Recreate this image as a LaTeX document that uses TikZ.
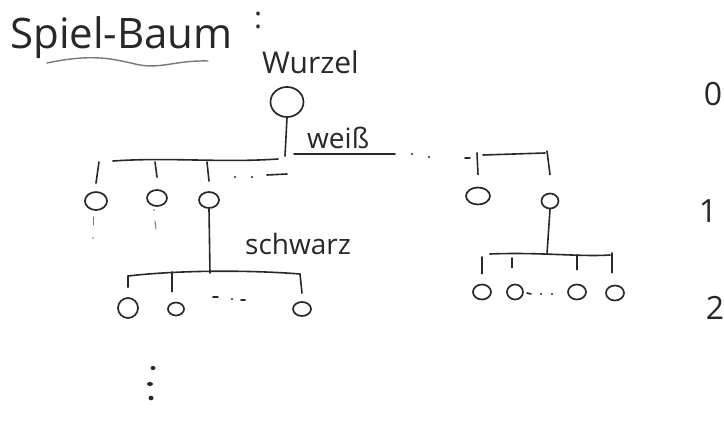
\documentclass[tikz,border=0pt]{standalone}
\usepackage{fontspec}
\setmainfont{Open Sans}
\usetikzlibrary{shapes.geometric,decorations.pathmorphing}
\definecolor{ink}{RGB}{40,40,40}
\definecolor{pale}{RGB}{120,120,120}
\begin{document}
\begin{tikzpicture}[x=1pt,y=-1pt,
  pen/.style={draw=ink,line width=1.6pt,line cap=round},
  knot/.style={draw=ink,line width=1.7pt,ellipse,inner sep=0pt},
  txt/.style={text=ink,inner sep=0pt,anchor=base west}]
\useasboundingbox (0,0) rectangle (724,425);
\fill[white] (0,0) rectangle (724,425);
% title
\node[txt,font=\fontsize{42}{42}\selectfont] (title) at (10,49) {Spiel-Baum};
\node[txt,font=\fontsize{30}{30}\selectfont] (colon) at (254,29) {:};
\draw[pale,line width=1.4pt,line cap=round] (47,63) .. controls (90,54) and (110,58) .. (135,64) .. controls (160,70) and (175,60) .. (208,61);
% labels
\node[txt,font=\fontsize{30}{30}\selectfont] (wurzel) at (262,74) {Wurzel};
\node[txt,font=\fontsize{28}{28}\selectfont] (weiss) at (307,149) {weiß};
\node[txt,font=\fontsize{28}{28}\selectfont] (schwarz) at (245,255) {schwarz};
% level numbers
\node[text=ink,inner sep=0pt,font=\fontsize{32}{32}\selectfont] (n0) at (713,94) {0};
\node[text=ink,inner sep=0pt,font=\fontsize{32}{32}\selectfont] (n1) at (708,211) {1};
\node[text=ink,inner sep=0pt,font=\fontsize{32}{32}\selectfont] (n2) at (715,308) {2};
% root
\node[knot,minimum width=33pt,minimum height=30pt] (root) at (287,102) {};
% level 1
\node[knot,minimum width=22pt,minimum height=18pt] (a1) at (96,201) {};
\node[knot,minimum width=20pt,minimum height=16pt] (a2) at (157,198) {};
\node[knot,minimum width=20pt,minimum height=16pt] (a3) at (209,200) {};
\node[knot,minimum width=24pt,minimum height=17pt] (a4) at (478,196) {};
\node[knot,minimum width=17pt,minimum height=15pt] (a5) at (550,201) {};
% level 2 left
\node[knot,minimum width=20pt,minimum height=20pt] (b1) at (128,308) {};
\node[knot,minimum width=16pt,minimum height=13pt] (b2) at (176,309) {};
\node[knot,minimum width=18pt,minimum height=14pt] (b3) at (302,309) {};
% level 2 right
\node[knot,minimum width=18pt,minimum height=15pt] (c1) at (482,292) {};
\node[knot,minimum width=16pt,minimum height=15pt] (c2) at (515,292) {};
\node[knot,minimum width=18pt,minimum height=15pt] (c3) at (577,292) {};
\node[knot,minimum width=18pt,minimum height=15pt] (c4) at (615,293) {};
% coordinates
\coordinate (rootbar) at (285,156);
\coordinate (barL) at (113,161);
\coordinate (barR) at (278,159);
\coordinate (ulL) at (294,154);
\coordinate (ulR) at (395,154);
\coordinate (t1) at (99,162);
\coordinate (t2) at (155,162);
\coordinate (t3) at (207,162);
\coordinate (rbarL) at (483,155);
\coordinate (rbarR) at (545,153);
\coordinate (t4) at (477,153);
\coordinate (t5) at (547,151);
\coordinate (s3) at (210,273);
\coordinate (lbarL) at (128,276);
\coordinate (lbarR) at (300,274);
\coordinate (s5) at (547,254);
\coordinate (rbL) at (490,254);
\coordinate (rbR) at (610,255);
% root connectors
\draw[pen] (root.south) -- (rootbar);
\draw[pen] (barL) .. controls (170,157) and (220,163) .. (barR);
\draw[pen] (ulL) -- (ulR);
\draw[pen] (t1) -- ([yshift=8pt]a1.north);
\draw[pen] (t2) -- ([yshift=12pt]a2.north);
\draw[pen] (t3) -- ([yshift=10pt]a3.north);
\fill[ink] (235,177) circle (1.2pt) (252,177) circle (1.2pt);
\draw[pen] (267,175) -- (287,174);
\fill[ink] (412,154) circle (1.2pt) (429,157) circle (1.2pt);
\draw[pen] (465,158) -- (470,158);
\draw[pen] (rbarL) -- (rbarR);
\draw[pen] (t4) -- ([yshift=12pt]a4.north);
\draw[pen] (t5) -- ([yshift=18pt]a5.north);
% faint marks below a1, a2
\draw[pale,line width=1pt,line cap=round] (93,217) -- (93,225);
\fill[pale] (93,238) circle (0.9pt);
\fill[pale] (154,210) circle (0.9pt);
\draw[pale,line width=1pt,line cap=round] (155,221) -- (156,229);
% schwarz subtree
\draw[pen] (a3.south) -- (s3);
\draw[pen] (lbarL) .. controls (180,270) and (250,270) .. (lbarR);
\draw[pen] (lbarL) -- ([yshift=10pt]b1.north);
\draw[pen] (172,272) -- ([xshift=-4pt,yshift=10pt]b2.north);
\draw[pen] (lbarR) -- ([yshift=8pt]b3.north);
\draw[pen] (213,297) -- (218,297);
\fill[ink] (232,299) circle (1.1pt);
\draw[pen] (241,300) -- (245,300);
% right subtree
\draw[pen] (a5.south) -- (s5);
\draw[pen] (rbL) .. controls (540,252) and (580,257) .. (rbR);
\draw[pen] (482,257) -- ([yshift=10pt]c1.north);
\draw[pen] (512,258) -- ([xshift=-3pt,yshift=16pt]c2.north);
\draw[pen] (577,255) -- ([yshift=14pt]c3.north);
\draw[pen] (612,253) -- ([xshift=-3pt,yshift=12pt]c4.north);
\draw[pen] (527,293) -- (531,294);
\fill[ink] (541,294) circle (1.1pt) (552,294) circle (1.1pt);
% vertical ellipsis
\fill[ink] (153,368) ellipse (2.5pt and 2pt);
\fill[ink] (150,384) ellipse (3pt and 2pt);
\fill[ink] (151,398) ellipse (2.5pt and 2.3pt);
\end{tikzpicture}
\end{document}
